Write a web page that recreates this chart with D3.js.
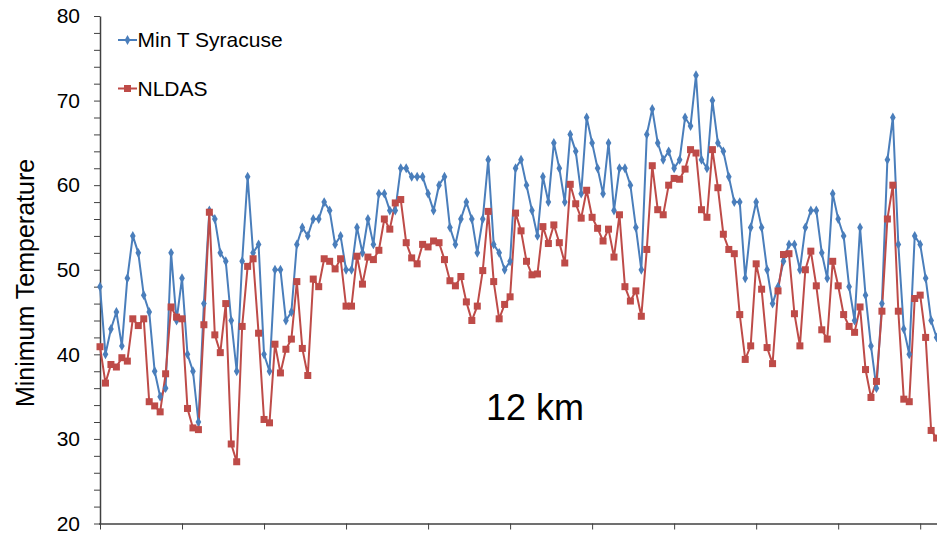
<!DOCTYPE html>
<html>
<head>
<meta charset="utf-8">
<script src="https://cdn.jsdelivr.net/npm/d3@7"></script>
<style>
  body { margin: 0; background: #fff; }
  text { font-family: "Liberation Sans", Arial, sans-serif; }
</style>
</head>
<body>
<svg></svg>
<script>
// values, one per time step
var syracuse = [
  48, 40, 43, 45, 41, 49, 54, 52, 47, 45,
  38, 35, 36, 52, 44, 49, 40, 38, 32, 46,
  57, 56, 52, 51, 44, 38, 51, 61, 52, 53,
  40, 38, 50, 50, 44, 45, 53, 55, 54, 56,
  56, 58, 57, 53, 54, 50, 50, 55, 52, 56,
  53, 59, 59, 57, 57, 62, 62, 61, 61, 61,
  59, 57, 60, 61, 55, 53, 56, 58, 56, 52,
  56, 63, 53, 52, 50, 51, 62, 63, 60, 57,
  54, 61, 58, 65, 62, 58, 66, 64, 59, 68,
  65, 62, 59, 65, 57, 62, 62, 60, 55, 50,
  66, 69, 65, 63, 64, 62, 63, 68, 67, 73,
  63, 62, 70, 65, 64, 61, 58, 58, 49, 55,
  58, 55, 50, 46, 48, 51, 53, 53, 50, 55,
  57, 57, 52, 49, 59, 56, 54, 48, 44, 55,
  47, 41, 36, 46, 63, 68, 53, 43, 40, 54,
  53, 49, 44, 42
];
var nldas = [
  40.9, 36.6, 38.8, 38.5, 39.6, 39.2, 44.2, 43.4, 44.2, 34.4,
  33.9, 33.2, 37.7, 45.6, 44.4, 44.2, 33.6, 31.3, 31.1, 43.5,
  56.8, 42.3, 40.2, 46.0, 29.4, 27.3, 43.3, 50.4, 51.3, 42.5,
  32.3, 31.9, 41.2, 37.8, 40.6, 41.8, 48.6, 40.7, 37.5, 48.9,
  48.0, 51.3, 51.0, 50.1, 51.3, 45.7, 45.7, 51.6, 48.3, 51.5,
  51.2, 52.3, 56.0, 54.8, 57.9, 58.3, 53.2, 51.4, 50.7, 53.0,
  52.7, 53.4, 53.2, 51.2, 48.7, 48.1, 49.2, 46.2, 44.0, 45.7,
  49.9, 56.9, 48.6, 44.2, 45.9, 46.8, 56.7, 54.6, 51.0, 49.4,
  49.5, 55.1, 53.1, 55.3, 53.2, 50.8, 60.1, 57.8, 56.1, 59.4,
  56.2, 54.9, 53.4, 54.8, 51.5, 56.5, 48.0, 46.3, 47.5, 44.5,
  52.4, 62.3, 57.1, 56.5, 60.0, 60.8, 60.7, 61.9, 64.2, 63.8,
  57.1, 56.2, 64.2, 59.7, 54.2, 52.4, 51.9, 44.7, 39.4, 41.0,
  50.7, 47.7, 40.8, 38.9, 47.5, 51.8, 51.9, 44.8, 41.0, 50.0,
  52.2, 48.1, 42.9, 41.8, 51.0, 48.1, 44.7, 43.3, 42.6, 45.6,
  38.2, 34.9, 36.8, 45.1, 56.0, 60.0, 45.1, 34.7, 34.4, 46.6,
  47.0, 42.0, 31.0, 30.1
];
var seriesNames = ["Min T Syracuse", "NLDAS"];
var yTickValues = [20, 30, 40, 50, 60, 70, 80];
var yTitle = "Minimum Temperature";
var note = "12 km";

var svgwidth = 937, svgheight = 535;
var blue = "#4a7ebb", red = "#be4b48";

var svg = d3.select('svg')
        .attr("width", svgwidth)
        .attr("height", svgheight);

var x = d3.scaleLinear().domain([0, syracuse.length - 1]).range([100, 936.6]);
var y = d3.scaleLinear().domain([20, 80]).range([523.5, 16]);

// y axis: labels every 10, minor ticks every 2
var yAxis = svg.append("g")
        .attr("transform", "translate(100,0)")
        .attr("color", "#404040")
        .call(d3.axisLeft(y)
                .tickValues(d3.range(20, 81, 2))
                .tickSize(6)
                .tickSizeOuter(0)
                .tickPadding(14)
                .tickFormat(function (d) { return yTickValues.indexOf(d) >= 0 ? d : ""; }));
yAxis.select(".domain").attr("stroke-width", 1.5);
yAxis.selectAll("text")
        .attr("fill", "#000")
        .style("font-size", "21px")
        .style("font-family", "'Liberation Sans', Arial, sans-serif");

var xAxis = svg.append("g")
        .attr("transform", "translate(0,523.5)")
        .attr("color", "#404040")
        .call(d3.axisBottom(x)
                .tickValues(d3.range(0, syracuse.length, 15))
                .tickSize(6)
                .tickSizeOuter(0)
                .tickFormat(""));
xAxis.select(".domain").attr("stroke-width", 1.5).attr("d", "M99,0.5H937");

svg.append("text")
        .attr("transform", "translate(34,283) rotate(-90)")
        .attr("text-anchor", "middle")
        .style("font-size", "25px")
        .text(yTitle);

var line = d3.line()
        .x(function (d, i) { return x(i); })
        .y(function (d) { return y(d); });

svg.append("path").datum(syracuse)
        .attr("fill", "none").attr("stroke", blue).attr("stroke-width", 2)
        .attr("d", line);
svg.append("path").datum(nldas)
        .attr("fill", "none").attr("stroke", red).attr("stroke-width", 2)
        .attr("d", line);

var diamond = d3.symbol().type(d3.symbolDiamond).size(28);

svg.selectAll("path.dia")
        .data(syracuse)
        .enter()
        .append("path")
        .attr("class", "dia")
        .attr("d", diamond)
        .attr("fill", blue)
        .attr("transform", function (d, i) {
                return "translate(" + x(i) + "," + y(d) + ")";
        });

svg.selectAll("rect.sq")
        .data(nldas)
        .enter()
        .append("rect")
        .attr("class", "sq")
        .attr("x", function (d, i) { return x(i) - 3.5; })
        .attr("y", function (d) { return y(d) - 3.5; })
        .attr("width", 7)
        .attr("height", 7)
        .attr("fill", red);

// legend
var legend = svg.selectAll("g.leg")
        .data(seriesNames)
        .enter()
        .append("g")
        .attr("class", "leg")
        .attr("transform", function (d, i) { return "translate(118," + (40 + i * 48.5) + ")"; });
legend.append("line")
        .attr("x1", 0).attr("x2", 19)
        .attr("stroke", function (d, i) { return i ? red : blue; })
        .attr("stroke-width", 2);
legend.filter(function (d, i) { return i === 0; }).append("path")
        .attr("d", diamond)
        .attr("transform", "translate(9.5,0)")
        .attr("fill", blue);
legend.filter(function (d, i) { return i === 1; }).append("rect")
        .attr("x", 6).attr("y", -3.5).attr("width", 7).attr("height", 7)
        .attr("fill", red);
legend.append("text")
        .attr("x", 19.5)
        .attr("y", 7)
        .style("font-size", "21px")
        .text(function (d) { return d; });

svg.append("text")
        .attr("x", 486)
        .attr("y", 420)
        .style("font-size", "36px")
        .text(note);
</script>
</body>
</html>
